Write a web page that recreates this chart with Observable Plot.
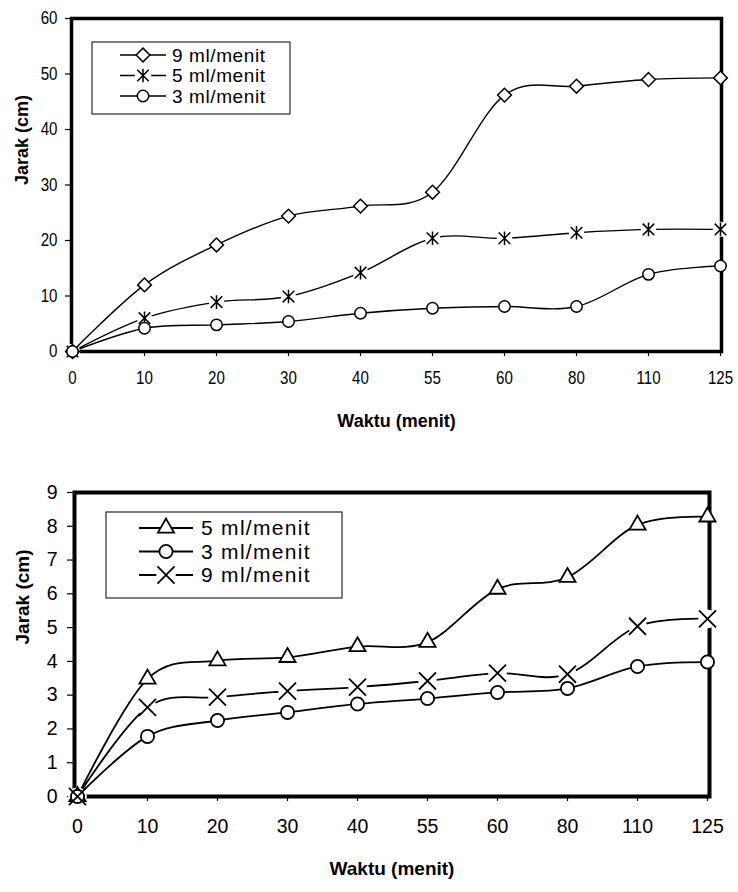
<!DOCTYPE html>
<html>
<head>
<meta charset="utf-8">
<script src="https://cdn.jsdelivr.net/npm/d3@7"></script>
<script src="https://cdn.jsdelivr.net/npm/@observablehq/plot@0.6"></script>
<style>
  html, body { margin: 0; padding: 0; background: #fff; }
  #chart svg { display: block; }
</style>
</head>
<body>
<div id="chart"></div>
<script>
// ---- data ----
const times = [0, 10, 20, 30, 40, 55, 60, 80, 110, 125];

// top panel (0–60 cm)
const top9 = [0, 12.0, 19.2, 24.4, 26.2, 28.7, 46.2, 47.8, 49.0, 49.3];
const top5 = [0, 6.0, 8.9, 9.9, 14.2, 20.4, 20.4, 21.4, 22.0, 22.0];
const top3 = [0, 4.2, 4.8, 5.4, 6.9, 7.8, 8.1, 8.1, 13.9, 15.4];
const topLabels = ["9 ml/menit", "5 ml/menit", "3 ml/menit"];
const topYTicks = [0, 10, 20, 30, 40, 50, 60];

// bottom panel (0–9 cm)
const bot5 = [0, 3.48, 4.02, 4.12, 4.44, 4.57, 6.14, 6.49, 8.04, 8.28];
const bot3 = [0, 1.78, 2.25, 2.49, 2.74, 2.90, 3.08, 3.20, 3.85, 3.98];
const bot9 = [0, 2.64, 2.94, 3.12, 3.24, 3.42, 3.65, 3.62, 5.04, 5.26];
const botLabels = ["5 ml/menit", "3 ml/menit", "9 ml/menit"];
const botYTicks = [0, 1, 2, 3, 4, 5, 6, 7, 8, 9];

const xTitle = "Waktu (menit)";
const yTitle = "Jarak (cm)";

// Excel-style star marker: X with vertical bar
const starSymbol = {
  draw(ctx, size) {
    const r = Math.sqrt(size / Math.PI) * 1.1;
    const d = r * 0.85;
    ctx.moveTo(0, -r); ctx.lineTo(0, r);
    ctx.moveTo(-d, -d); ctx.lineTo(d, d);
    ctx.moveTo(-d, d); ctx.lineTo(d, -d);
  }
};

function table(values) {
  return times.map((t, i) => ({t, v: values[i]}));
}

function panel(cfg) {
  const font = "Liberation Sans, Arial, sans-serif";
  const marks = [
    Plot.frame({stroke: "black", strokeWidth: cfg.frameW}),
    Plot.axisY({ticks: cfg.yTicks, label: null, tickSize: cfg.yTickSize, tickPadding: cfg.yTickPad, tickFormat: d => String(d), stroke: "black", strokeWidth: 1.2, fontSize: cfg.tickSize, fontFamily: font, fill: "black"}),
    Plot.axisX({label: null, tickSize: 5, tickPadding: cfg.xTickPad, tickFormat: d => String(d), stroke: "black", strokeWidth: 1.2, fontSize: cfg.tickSize, fontFamily: font, fill: "black"}),
    Plot.text([xTitle], {frameAnchor: "bottom", dy: cfg.xTitleDy, text: d => d, fontWeight: "bold", fontSize: cfg.titleSize, fontFamily: font, fill: "black"}),
    Plot.text([yTitle], {frameAnchor: "left", dx: -cfg.yTitleDx, rotate: -90, text: d => d, fontWeight: "bold", fontSize: cfg.yTitleSize, fontFamily: font, fill: "black"})
  ];
  for (const s of cfg.series) {
    marks.push(Plot.line(table(s.values), {x: "t", y: "v", curve: "cardinal", tension: 0, stroke: "black", strokeWidth: cfg.lineW}));
  }
  for (const s of cfg.series) {
    if (s.open) marks.push(Plot.dot(table(s.values), {x: "t", y: "v", r: s.r + 1.5, fill: "white", stroke: "none"}));
  }
  for (const s of cfg.series) {
    marks.push(Plot.dot(table(s.values), {x: "t", y: "v", r: s.r, symbol: s.symbol, fill: s.open ? "none" : "white", stroke: "black", strokeWidth: cfg.markW}));
  }
  const svg = Plot.plot({
    width: 738,
    height: cfg.height,
    marginTop: cfg.mt, marginBottom: cfg.mb, marginLeft: cfg.ml, marginRight: cfg.mr,
    x: {type: "point", domain: times, padding: 0},
    y: {domain: [cfg.yTicks[0], cfg.yTicks[cfg.yTicks.length - 1]]},
    style: {fontFamily: font, fontSize: cfg.tickSize + "px", color: "black", background: "white", overflow: "visible"},
    marks
  });

  // narrow the tick labels where the reference uses a condensed face
  if (cfg.tickScaleX !== 1) {
    svg.querySelectorAll('g[aria-label$="tick label"] text').forEach(t => {
      const tr = t.getAttribute("transform") || "";
      t.setAttribute("transform", (tr + ` scale(${cfg.tickScaleX},1)`).trim());
    });
  }

  // legend box drawn inside the plot area
  const g = d3.select(svg).append("g").attr("text-anchor", "start");
  const L = cfg.legend;
  g.append("rect").attr("x", L.x).attr("y", L.y).attr("width", L.w).attr("height", L.h)
    .attr("fill", "white").attr("stroke", "black").attr("stroke-width", 1);
  const map = {circle: d3.symbolCircle, diamond2: d3.symbolDiamond2, triangle: d3.symbolTriangle, times: d3.symbolTimes};
  cfg.series.forEach((s, i) => {
    const y = L.y + L.row0 + i * L.rowH;
    g.append("line").attr("x1", L.lx1).attr("x2", L.lx2).attr("y1", y).attr("y2", y)
      .attr("stroke", "black").attr("stroke-width", cfg.lineW);
    const cx = (L.lx1 + L.lx2) / 2;
    if (s.open) g.append("circle").attr("cx", cx).attr("cy", y).attr("r", s.r + 2).attr("fill", "white");
    const type = typeof s.symbol === "string" ? map[s.symbol] : s.symbol;
    g.append("path").attr("transform", `translate(${cx},${y})`)
      .attr("d", d3.symbol().type(type).size(Math.PI * s.r * s.r)())
      .attr("fill", s.open ? "none" : "white").attr("stroke", "black").attr("stroke-width", cfg.markW);
    g.append("text").attr("x", L.tx).attr("y", y).attr("dy", "0.35em")
      .attr("text-anchor", "start")
      .attr("font-family", font).attr("font-size", L.fs)
      .attr("letter-spacing", L.ls).attr("fill", "black").text(s.label);
  });
  return svg;
}

const topSvg = panel({
  height: 440, mt: 18, mb: 89, ml: 71, mr: 17,
  yTicks: topYTicks, yTickSize: 6, yTickPad: 8, xTickPad: 15,
  tickSize: 18, tickScaleX: 0.84,
  titleSize: 18, xTitleDy: 75,
  yTitleDx: 49, yTitleSize: 18,
  frameW: 3.5, lineW: 1.4, markW: 1.5,
  series: [
    {values: top9, label: topLabels[0], symbol: "diamond2", r: 6.2, open: false},
    {values: top5, label: topLabels[1], symbol: starSymbol, r: 6.2, open: true},
    {values: top3, label: topLabels[2], symbol: "circle", r: 5.7, open: false}
  ],
  legend: {x: 92, y: 42, w: 198, h: 72, row0: 13, rowH: 20.5, lx1: 120, lx2: 166, tx: 172, fs: 19, ls: 0.6}
});

const botSvg = panel({
  height: 452, mt: 52, mb: 96, ml: 74, mr: 29,
  yTicks: botYTicks, yTickSize: 7, yTickPad: 10, xTickPad: 18,
  tickSize: 19.5, tickScaleX: 1,
  titleSize: 19, xTitleDy: 78,
  yTitleDx: 52, yTitleSize: 19,
  frameW: 4, lineW: 1.8, markW: 1.8,
  series: [
    {values: bot5, label: botLabels[0], symbol: "triangle", r: 6, open: false},
    {values: bot3, label: botLabels[1], symbol: "circle", r: 6.6, open: false},
    {values: bot9, label: botLabels[2], symbol: "times", r: 7.8, open: true}
  ],
  legend: {x: 106, y: 72, w: 236, h: 86, row0: 16, rowH: 23.5, lx1: 139, lx2: 193, tx: 201, fs: 21, ls: 1.3}
});

document.getElementById("chart").append(topSvg, botSvg);
</script>
</body>
</html>
